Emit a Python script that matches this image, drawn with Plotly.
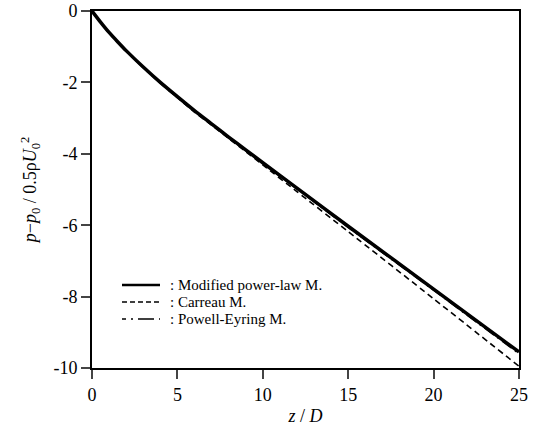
import plotly.graph_objects as go

z_vals = [0, 0.5, 1, 1.5, 2, 3, 4, 5, 6, 7, 8, 9, 10, 12, 15, 20, 25]
modified_power_law = [0, -0.31, -0.60, -0.86, -1.11, -1.57, -2.00, -2.40, -2.79, -3.16, -3.53, -3.89, -4.25, -4.96, -6.03, -7.79, -9.55]
carreau = [0, -0.31, -0.60, -0.86, -1.11, -1.58, -2.02, -2.43, -2.83, -3.20, -3.57, -3.94, -4.31, -5.06, -6.18, -8.06, -9.95]
powell_eyring = [0, -0.32, -0.62, -0.88, -1.13, -1.59, -2.02, -2.42, -2.81, -3.18, -3.55, -3.91, -4.27, -4.98, -6.06, -7.82, -9.60]

x_ticks = [0, 5, 10, 15, 20, 25]
y_ticks = [0, -2, -4, -6, -8, -10]
y_tick_text = ["0", "-2", "-4", "-6", "-8", "-10"]

series_names = [": Modified power-law M.", ": Carreau M.", ": Powell-Eyring M."]

font = "Liberation Serif, Times New Roman, serif"

styles = [
    dict(color="black", width=3.5),
    dict(color="black", width=1.6, dash="6px,4px"),
    dict(color="black", width=1.6, dash="12px,4px,2px,4px"),
]

fig = go.Figure()
for ys, st, nm in zip([modified_power_law, carreau, powell_eyring], styles, series_names):
    fig.add_trace(go.Scatter(x=z_vals, y=ys, mode="lines",
                             line=dict(shape="spline", smoothing=0.6, **st),
                             name=nm, showlegend=False))

# manual legend (key), in paper coordinates
L, W, T, H = 92, 427, 11, 357  # plot area in px
def px_x(p):
    return (p - L) / W
def px_y(p):
    return 1 - (p - T) / H

legend_rows = [285, 302, 319]
leg_styles = [
    dict(color="black", width=2.5),
    dict(color="black", width=1.4, dash="5px,3px"),
    dict(color="black", width=1.4, dash="4px,5px,2px,5px,12px,0px"),
]
for row, st, nm in zip(legend_rows, leg_styles, series_names):
    fig.add_shape(type="line", xref="paper", yref="paper",
                  x0=px_x(122), x1=px_x(160), y0=px_y(row), y1=px_y(row), line=st)
    fig.add_annotation(xref="paper", yref="paper", x=px_x(168), y=px_y(row),
                       xanchor="left", yanchor="middle", text=nm, showarrow=False,
                       font=dict(size=15, family=font, color="black"))

fig.update_layout(
    width=546, height=438,
    margin=dict(l=92, r=27, t=11, b=70, autoexpand=False),
    paper_bgcolor="white", plot_bgcolor="white",
    font=dict(family=font, color="black", size=16),
    showlegend=False,
)
fig.update_xaxes(range=[0, 25], tickvals=x_ticks, ticks="outside", ticklen=9,
                 tickwidth=1.5, showline=True, linecolor="black", linewidth=2,
                 mirror=True, showgrid=False, zeroline=False, automargin=False,
                 title=dict(text="<i>z</i> / <i>D</i>", font=dict(size=18), standoff=6),
                 tickfont=dict(size=18))
fig.update_yaxes(range=[-10, 0], tickvals=y_ticks, ticktext=y_tick_text, ticks="outside", ticklen=9,
                 tickwidth=1.5, showline=True, linecolor="black", linewidth=2,
                 mirror=True, showgrid=False, zeroline=False, automargin=False,
                 title=dict(text="<i>p</i>−<i>p</i><sub>0</sub> / 0.5ρ<i>U</i><sub>0</sub><sup>2</sup>",
                            font=dict(size=18), standoff=12),
                 tickfont=dict(size=18))

fig.write_html("out.html", config={"displayModeBar": False},
               post_script="document.body.style.margin='0';")
